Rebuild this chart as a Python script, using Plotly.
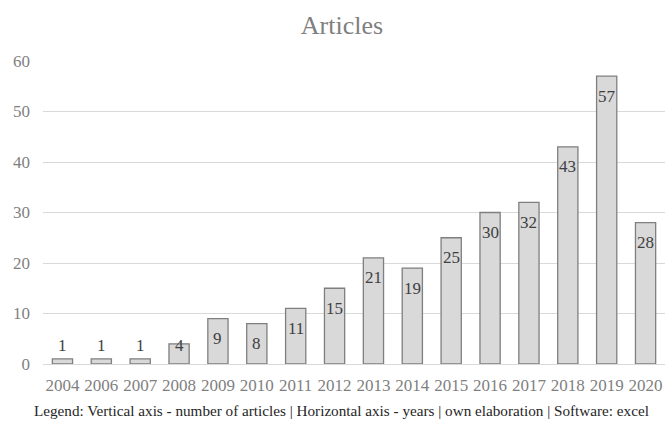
import plotly.graph_objects as go

years = ["2004", "2006", "2007", "2008", "2009", "2010", "2011", "2012",
         "2013", "2014", "2015", "2016", "2017", "2018", "2019", "2020"]
articles = [1, 1, 1, 4, 9, 8, 11, 15, 21, 19, 25, 30, 32, 43, 57, 28]
y_ticks = [0, 10, 20, 30, 40, 50, 60]

W, H = 665, 435
ML, MR, MT, MB = 43, 0, 61, 71
plot_h = H - MT - MB
ymax = 60
ppu = plot_h / ymax

FONT = "Liberation Serif"

fig = go.Figure()
fig.add_trace(go.Bar(
    x=years, y=articles,
    marker=dict(color="#d9d9d9", line=dict(color="#7f7f7f", width=1.3)),
    width=0.52,
    hoverinfo="x+y",
))

annotations = []
for i, v in enumerate(articles):
    center_above = max(v * ppu - 20, 19)
    annotations.append(dict(
        x=i, y=0, xref="x", yref="y",
        text=str(v), showarrow=False,
        yanchor="middle", yshift=center_above,
        font=dict(family=FONT, size=17, color="#404040"),
    ))

annotations.append(dict(
    x=(341 - ML) / (W - ML - MR), y=-(410 - (H - MB)) / plot_h,
    xref="paper", yref="paper",
    text="Legend: Vertical axis - number of articles | Horizontal axis - years | own elaboration | Software: excel",
    showarrow=False, xanchor="center", yanchor="middle",
    font=dict(family=FONT, size=15.2, color="#262626"),
))

fig.update_layout(
    width=W, height=H,
    margin=dict(l=ML, r=MR, t=MT, b=MB),
    paper_bgcolor="white", plot_bgcolor="white",
    showlegend=False,
    font=dict(family=FONT),
    title=dict(text="Articles", x=(342 - ML) / (W - ML - MR), xref="paper",
               xanchor="center", y=(H - 25) / H, yanchor="middle",
               font=dict(family=FONT, size=26, color="#7f7f7f")),
    annotations=annotations,
)
fig.update_xaxes(
    type="category", range=[-0.5, len(years) - 0.5],
    showline=True, linecolor="#d9d9d9", linewidth=1,
    showgrid=False, ticks="",
    tickfont=dict(family=FONT, size=17, color="#7f7f7f"),
    ticklabelstandoff=6,
)
fig.update_yaxes(
    range=[0, ymax], tickvals=y_ticks, showgrid=True, gridcolor="#d9d9d9",
    gridwidth=1, zeroline=False, showline=False, ticks="",
    tickfont=dict(family=FONT, size=17, color="#7f7f7f"),
    ticklabelstandoff=12,
)

fig.write_html("out.html")
